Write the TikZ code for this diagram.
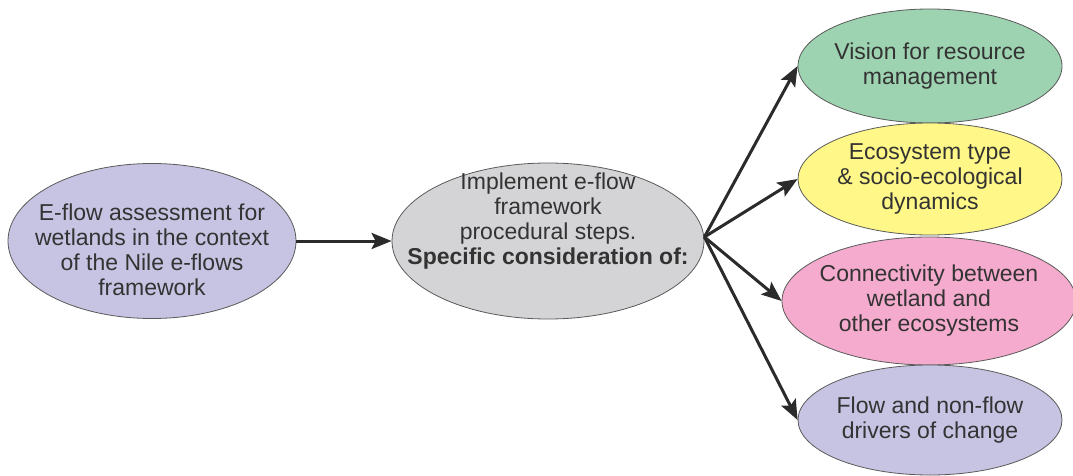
\documentclass[tikz,border=0pt]{standalone}
\usepackage{fontspec}
\setmainfont{Liberation Sans}
\usetikzlibrary{shapes.geometric,arrows.meta}
\definecolor{txt}{HTML}{333333}
\definecolor{edge}{HTML}{5A5A5A}
\definecolor{arr}{HTML}{2B2B2B}
\definecolor{lav}{HTML}{C7C4E3}
\definecolor{greyfill}{HTML}{D4D4D6}
\definecolor{mint}{HTML}{9ED3B1}
\definecolor{lemon}{HTML}{FFF787}
\definecolor{rose}{HTML}{F4ABCD}
\begin{document}
\begin{tikzpicture}[x=1pt,y=-1pt,
  oval/.style={ellipse, draw=edge, line width=0.8pt, inner sep=0pt},
  label text/.style={text=txt, align=center, inner sep=0pt,
    font=\fontsize{23}{25}\selectfont},
  link/.style={draw=arr, line width=3pt,
    -{Stealth[length=20pt,width=16pt,inset=4pt]}}]
\useasboundingbox (0,0) rectangle (1073,476);

% source and central step
\node[oval, fill=lav, minimum width=288pt, minimum height=155pt] (src) at (152,241) {};
\node[label text] (srctext) at (152,250)
  {E-flow assessment for\\wetlands in the context\\of the Nile e-flows\\framework};
\node[oval, fill=greyfill, minimum width=312pt, minimum height=156pt] (mid) at (548,241) {};
\node[label text] (midtext) at (548,221)
  {Implement e-flow\\framework\\procedural steps.\\\textbf{Specific consideration of:}};

% considerations
\node[oval, fill=mint, minimum width=264pt, minimum height=114pt] (vision) at (930,66) {};
\node[label text] (visiontext) at (vision.center) {Vision for resource\\management};
\node[oval, fill=lemon, minimum width=264pt, minimum height=112pt] (ecotype) at (930,179) {};
\node[label text] (ecotypetext) at (ecotype.center) {Ecosystem type\\\& socio-ecological\\dynamics};
\node[oval, fill=rose, minimum width=294pt, minimum height=128pt] (connect) at (929,301) {};
\node[label text] (connecttext) at (connect.center) {Connectivity between\\wetland and\\other ecosystems};
\node[oval, fill=lav, minimum width=264pt, minimum height=110pt] (drivers) at (930,420) {};
\node[label text] (driverstext) at (drivers.center) {Flow and non-flow\\drivers of change};

% connectors
\draw[link] (src.east) -- (mid.west);
\coordinate (hub) at ([yshift=4pt]mid.east);
\draw[link] (hub) -- (vision.west);
\draw[link] (hub) -- (ecotype.west);
\draw[link] (hub) -- (connect.west);
\draw[link] (hub) -- (drivers.west);
\end{tikzpicture}
\end{document}
